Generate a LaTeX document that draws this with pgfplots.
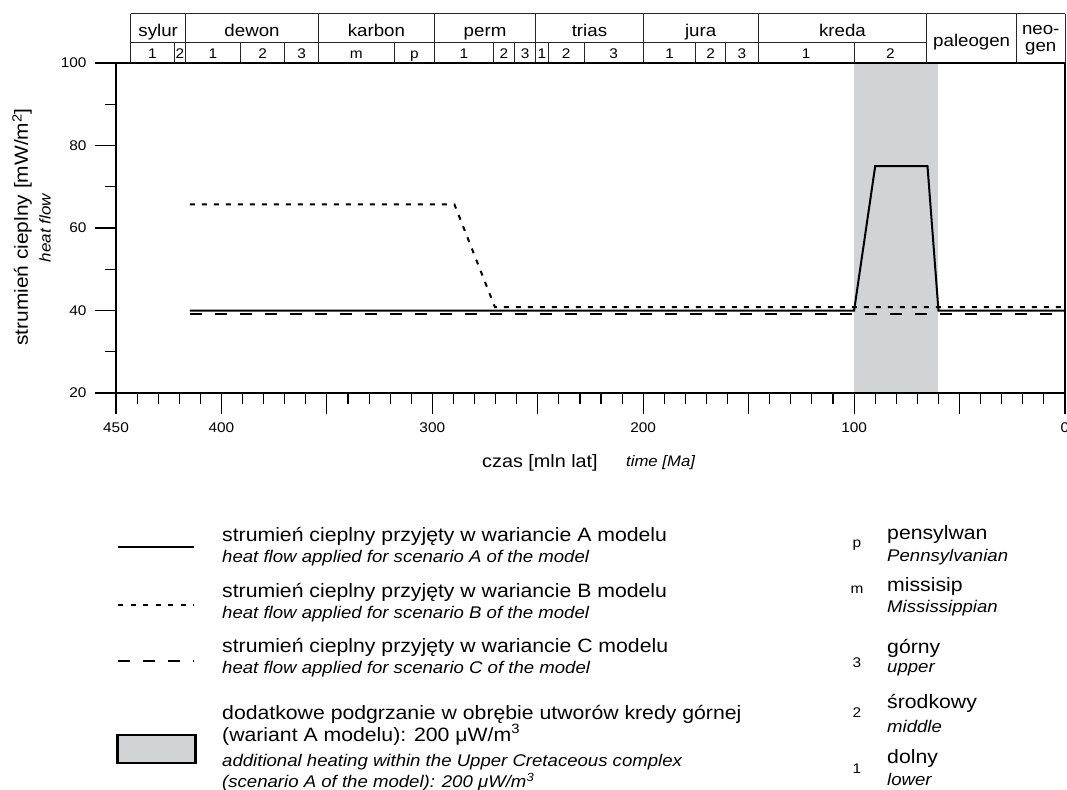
\documentclass[border=0pt]{standalone}
\usepackage{fontspec}
\setmainfont{Liberation Sans}[FakeStretch=1.1]
\usepackage{pgfplots}
\pgfplotsset{compat=1.18}
\definecolor{band}{RGB}{209,211,212}
\newcommand{\fs}[1]{\fontsize{#1}{#1}\selectfont}
\begin{document}
\begin{tikzpicture}[x=1pt,y=1pt]
\useasboundingbox (0,0) rectangle (1067,-789);
\begin{axis}[
  at={(116pt,-393pt)}, anchor=south west,
  width=949pt, height=330pt, scale only axis,
  xmin=0, xmax=450, x dir=reverse,
  ymin=20, ymax=100,
  clip=false, axis on top,
  axis line style={line width=1.1pt},
  tick align=outside,
  xtick pos=bottom, ytick pos=left,
  xtick={0,50,...,450},
  xticklabels={0,,100,,200,,300,,400,450},
  minor x tick num=4,
  ytick={20,40,60,80,100},
  minor y tick num=1,
  major tick length=21pt, minor tick length=11pt,
  every tick/.style={line width=1.1pt, black},
  /pgf/number format/assume math mode=true,
  ticklabel style={font=\fs{14}},
  xticklabel style={yshift=-5pt},
  yticklabel style={xshift=-5pt},
]
% grey band (additional heating)
\addplot[fill=band, draw=none] coordinates {(100,20) (100,100) (60,100) (60,20)} -- cycle;
% scenario C
\addplot[black, line width=2pt, dash pattern=on 12pt off 13pt] coordinates {(415,39.2) (0,39.2)};
% scenario B
\addplot[black, line width=2pt, dash pattern=on 5pt off 7pt] coordinates {(415,65.7) (289.5,65.7) (270.3,40.8) (0,40.8)};
% scenario A
\addplot[black, line width=2pt] coordinates {(415,40) (100,40) (90,75) (65.2,75) (60,40) (0,40)};

% header (stratigraphic table)
\draw[line width=0.9pt, draw=black!85] (443,111.9) -- (0,111.9);
\draw[line width=0.9pt, draw=black!85] (443,105.1) -- (65.5,105.1);
\draw[line width=0.9pt, draw=black!85] (443,100) -- (0,100);
\pgfplotsinvokeforeach{443,417,354,299,251,200,145.5,65.5,23,0}{
  \draw[line width=0.9pt, draw=black!85] (#1,100) -- (#1,111.9);
}
\pgfplotsinvokeforeach{422.5,391,370,318,271,261,245,228,175,161,100}{
  \draw[line width=0.9pt, draw=black!85] (#1,100) -- (#1,105.1);
}
\node[font=\fs{17}, inner sep=0pt, anchor=base] at (430,106.5) {sylur};
\node[font=\fs{17}, inner sep=0pt, anchor=base] at (385.5,106.5) {dewon};
\node[font=\fs{17}, inner sep=0pt, anchor=base] at (326.5,106.5) {karbon};
\node[font=\fs{17}, inner sep=0pt, anchor=base] at (275,106.5) {perm};
\node[font=\fs{17}, inner sep=0pt, anchor=base] at (225.5,106.5) {trias};
\node[font=\fs{17}, inner sep=0pt, anchor=base] at (172.75,106.5) {jura};
\node[font=\fs{17}, inner sep=0pt, anchor=base] at (105.5,106.5) {kreda};
\node[font=\fs{17}, inner sep=0pt, anchor=base] at (44.25,104.0) {paleogen};
\node[font=\fs{17}, inner sep=0pt, anchor=base] at (11.5,107.0) {neo-};
\node[font=\fs{17}, inner sep=0pt, anchor=base] at (11.5,102.9) {gen};
\pgfplotsforeachungrouped \x/\t in {432.75/1,419.75/2,404/1,380.5/2,362/3,336/m,308.5/p,285/1,266/2,256/3,248/1,236.5/2,214/3,187.5/1,168/2,153.25/3,122.75/1,82.75/2}{
  \edef\temp{\noexpand\node[font=\noexpand\fs{14}, inner sep=0pt, anchor=base] at (\x,101.2) {\t};}
  \temp
}
\end{axis}

% axis titles
\node[anchor=west, font=\fs{18}, inner sep=0pt] at (482,-463) {czas [mln lat]};
\node[anchor=west, font=\fs{15.2}\itshape, inner sep=0pt] at (626,-463) {time [Ma]};
\node[rotate=90, font=\fs{19}, inner sep=0pt] at (22,-227) {strumień cieplny [mW/m\textsuperscript{2}]};
\node[rotate=90, font=\fs{15.5}\itshape, inner sep=0pt] at (45,-228) {heat flow};

% legend symbols
\draw[line width=2.5pt] (118,-547) -- (194,-547);
\draw[line width=1.6pt, dash pattern=on 5pt off 7.5pt] (118,-605) -- (194,-605);
\draw[line width=1.6pt, dash pattern=on 12pt off 13pt] (118,-661) -- (194,-661);
\draw[line width=2.5pt, fill=band] (117.5,-735) rectangle (195.5,-763);

% legend texts
\begin{scope}[every node/.style={anchor=west, inner sep=0pt}]
\node[font=\fs{19.3}] at (222,-536) {strumień cieplny przyjęty w wariancie A modelu};
\node[font=\fs{16.9}\itshape] at (222,-558) {heat flow applied for scenario A of the model};
\node[font=\fs{19.3}] at (222,-592) {strumień cieplny przyjęty w wariancie B modelu};
\node[font=\fs{16.9}\itshape] at (222,-614) {heat flow applied for scenario B of the model};
\node[font=\fs{19.3}] at (222,-647) {strumień cieplny przyjęty w wariancie C modelu};
\node[font=\fs{16.9}\itshape] at (222,-669) {heat flow applied for scenario C of the model};
\node[font=\fs{19.3}] at (222,-714) {dodatkowe podgrzanie w obrębie utworów kredy górnej};
\node[font=\fs{19.3}] at (222,-735) {(wariant A modelu): 200 μW/m\textsuperscript{3}};
\node[font=\fs{16.9}\itshape] at (222,-762) {additional heating within the Upper Cretaceous complex};
\node[font=\fs{16.9}\itshape] at (222,-782) {(scenario A of the model): 200 μW/m\textsuperscript{3}};
\node[font=\fs{19.3}] at (887,-535) {pensylwan};
\node[font=\fs{16.9}\itshape] at (887,-557) {Pennsylvanian};
\node[font=\fs{19.3}] at (887,-587) {missisip};
\node[font=\fs{16.9}\itshape] at (887,-608) {Mississippian};
\node[font=\fs{19.3}] at (887,-648) {górny};
\node[font=\fs{16.9}\itshape] at (887,-670) {upper};
\node[font=\fs{19.3}] at (887,-703) {środkowy};
\node[font=\fs{16.9}\itshape] at (887,-726) {middle};
\node[font=\fs{19.3}] at (887,-758) {dolny};
\node[font=\fs{16.9}\itshape] at (887,-779) {lower};
\end{scope}
\begin{scope}[every node/.style={inner sep=0pt, font=\fs{14}}]
\node at (857,-545) {p};
\node at (857,-590) {m};
\node at (857,-663) {3};
\node at (857,-713) {2};
\node at (857,-769) {1};
\end{scope}
\end{tikzpicture}
\end{document}
